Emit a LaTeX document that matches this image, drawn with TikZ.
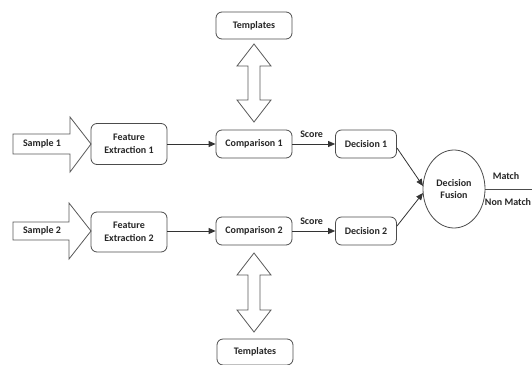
\documentclass[tikz,border=0pt]{standalone}
\usepackage{fontspec}
\setmainfont{Carlito}
\usetikzlibrary{shapes.geometric,arrows.meta}
\begin{document}
\begin{tikzpicture}[x=1pt,y=-1pt,
  lbl/.style={font=\fontsize{10}{11.5}\selectfont\bfseries, text=black!85},
  rbox/.style={draw=black!70, line width=0.8pt, rounded corners=6pt, align=center, inner sep=0pt, lbl},
  fat/.style={draw=black!65, line width=0.8pt, fill=white},
  conn/.style={draw=black!80, line width=0.8pt, -{Triangle[length=7pt,width=6pt]}},
]
\useasboundingbox (0,0) rectangle (532,364);

% big hollow input arrows
\draw[fat] (13,134) -- (70,134) -- (70,117) -- (91,144) -- (70,172) -- (70,154) -- (13,154) -- cycle;
\draw[fat] (13,222) -- (69,222) -- (69,203) -- (91,231) -- (69,259) -- (69,240) -- (13,240) -- cycle;
\node[lbl] (s1) at (42,144) {Sample 1};
\node[lbl] (s2) at (42,231) {Sample 2};

% boxes
\node[rbox, minimum width=76pt, minimum height=41pt] (fe1) at (129,144) {Feature\\[1pt]Extraction 1};
\node[rbox, minimum width=76pt, minimum height=40pt] (fe2) at (129,232) {Feature\\[1pt]Extraction 2};
\node[rbox, minimum width=76pt, minimum height=28pt] (c1) at (254,144) {Comparison 1};
\node[rbox, minimum width=76pt, minimum height=28pt] (c2) at (254,231) {Comparison 2};
\node[rbox, minimum width=61pt, minimum height=28pt] (d1) at (366,144) {Decision 1};
\node[rbox, minimum width=61pt, minimum height=28pt] (d2) at (366,231) {Decision 2};
\node[rbox, minimum width=76pt, minimum height=27pt] (t1) at (254,25.5) {Templates};
\node[rbox, minimum width=76pt, minimum height=26pt] (t2) at (255,352) {Templates};
\node[draw=black!70, line width=0.8pt, ellipse, minimum width=62pt, minimum height=78pt, align=center, inner sep=0pt, lbl] (df) at (454,189) {Decision\\[1pt]Fusion};

% double hollow arrows
\draw[fat] (254,44) -- (271,66) -- (260,66) -- (260,100) -- (271,100) -- (254,122) -- (237,100) -- (248,100) -- (248,66) -- (237,66) -- cycle;
\draw[fat] (254,253) -- (271,275) -- (260,275) -- (260,310) -- (271,310) -- (254,332) -- (237,310) -- (248,310) -- (248,275) -- (237,275) -- cycle;

% connectors
\draw[conn] (fe1) -- (c1);
\draw[conn] (fe2.east |- c2) -- (c2);
\draw[conn] (c1) -- node[lbl, above=3pt, pos=0.45] (sc1) {Score} (d1);
\draw[conn] (c2) -- node[lbl, above=3pt, pos=0.45] (sc2) {Score} (d2);
\coordinate (d1o) at (397,148);
\coordinate (d2o) at (397,226);
\draw[conn] (d1o) -- (423,186);
\draw[conn] (d2o) -- (423,193);
\coordinate (out) at (532,189);
\draw[draw=black!70, line width=0.8pt] (df.east) -- (out);
\node[lbl] (m) at (506,176) {Match};
\node[lbl] (nm) at (508,202) {Non Match};
\end{tikzpicture}
\end{document}
